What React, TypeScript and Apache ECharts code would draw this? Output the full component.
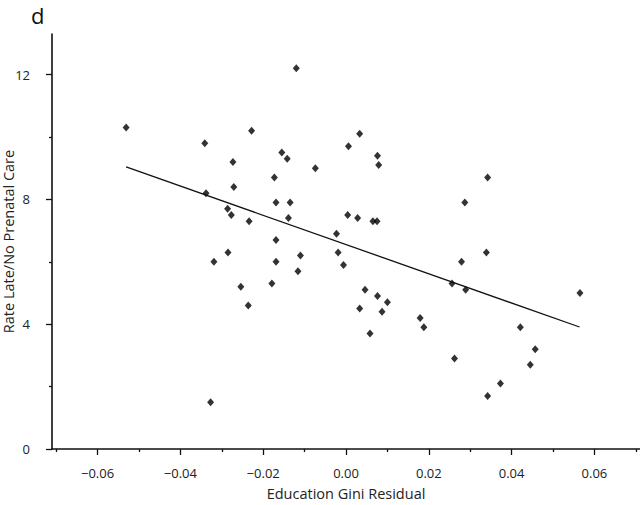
import React, { useEffect, useRef } from "react";
import * as echarts from "echarts";

const giniResidual = [
  -0.0531, -0.012, -0.0341, -0.0228, -0.0155, -0.0142, -0.0273, -0.0074, -0.0173, -0.0271,
  -0.0338, -0.0169, -0.0135, -0.0286, -0.0277, -0.0234, -0.0139, -0.0023, -0.0169, 0.0033,
  0.0006, 0.0076, 0.0079, 0.0342, 0.0287, 0.0004, 0.0028, 0.0065, 0.0075, -0.011,
  -0.0019, -0.0006, 0.0339, 0.0279, 0.0256, 0.0289, 0.0565, 0.0046, 0.0076, 0.01,
  0.0033, 0.0087, 0.0179, 0.0188, 0.0058, 0.0421, 0.0457, 0.0445, 0.0262, 0.0373,
  0.0342, -0.0285, -0.0319, -0.0169, -0.0116, -0.0254, -0.0179, -0.0236, -0.0327,
];
const rateLate = [
  10.3, 12.2, 9.8, 10.2, 9.5, 9.3, 9.2, 9.0, 8.7, 8.4,
  8.2, 7.9, 7.9, 7.7, 7.5, 7.3, 7.4, 6.9, 6.7, 10.1,
  9.7, 9.4, 9.1, 8.7, 7.9, 7.5, 7.4, 7.3, 7.3, 6.2,
  6.3, 5.9, 6.3, 6.0, 5.3, 5.1, 5.0, 5.1, 4.9, 4.7,
  4.5, 4.4, 4.2, 3.9, 3.7, 3.9, 3.2, 2.7, 2.9, 2.1,
  1.7, 6.3, 6.0, 6.0, 5.7, 5.2, 5.3, 4.6, 1.5,
];
const fitX = [-0.0531, 0.0564];
const fitY = [9.04, 3.91];
const xMajorTicks = [-0.06, -0.04, -0.02, 0, 0.02, 0.04, 0.06];
const xMinorTicks = [-0.07, -0.05, -0.03, -0.01, 0.01, 0.03, 0.05, 0.07];
const yMajorTicks = [0, 4, 8, 12];
const yMinorTicks = [2, 6, 10];

const FONT = "Open Sans";
const INK = "#111";

export default function App() {
  const ref = useRef<HTMLDivElement>(null);
  useEffect(() => {
    document.body.style.margin = "0";
    const chart = echarts.init(ref.current!, null, { renderer: "svg" });
    const xRange = { type: "value" as const, min: -0.071, max: 0.071, splitLine: { show: false } };
    const yRange = { type: "value" as const, min: 0, max: 13.3, splitLine: { show: false } };
    const gridBox = { left: 52, right: 0, top: 34, bottom: 56, containLabel: false, outerBoundsMode: "none" };
    chart.setOption({
      animation: false,
      backgroundColor: "#ffffff",
      grid: [gridBox, { ...gridBox }],
      graphic: [
        {
          type: "text",
          left: 31,
          top: 4,
          style: { text: "d", font: `22px "${FONT}"`, fill: INK },
        },
      ],
      xAxis: [
        {
          ...xRange,
          gridIndex: 0,
          name: "Education Gini Residual",
          nameLocation: "middle",
          nameGap: 37,
          nameMoveOverlap: false,
          nameTextStyle: { fontFamily: FONT, fontSize: 14.5, color: "#222" },
          axisLine: { show: true, onZero: false, lineStyle: { color: INK, width: 1.6 } },
          axisTick: { show: true, length: 6, customValues: xMajorTicks, lineStyle: { color: INK, width: 1.3 } },
          axisLabel: {
            customValues: xMajorTicks,
            margin: 17,
            fontFamily: FONT,
            fontSize: 13,
            color: "#222",
            formatter: (v: number) => v.toFixed(2).replace("-", "\u2212"),
          },
        },
        {
          ...xRange,
          gridIndex: 1,
          position: "bottom",
          axisLine: { show: false, onZero: false },
          axisTick: { show: true, length: 3, customValues: xMinorTicks, lineStyle: { color: INK, width: 1.3 } },
          axisLabel: { show: false },
        },
      ],
      yAxis: [
        {
          ...yRange,
          gridIndex: 0,
          name: "Rate Late/No Prenatal Care",
          nameLocation: "middle",
          nameGap: 36,
          nameMoveOverlap: false,
          nameTextStyle: { fontFamily: FONT, fontSize: 14.5, color: "#222" },
          axisLine: { show: true, onZero: false, lineStyle: { color: INK, width: 1.6 } },
          axisTick: { show: true, length: 6, customValues: yMajorTicks, lineStyle: { color: INK, width: 1.3 } },
          axisLabel: {
            customValues: yMajorTicks,
            margin: 22,
            fontFamily: FONT,
            fontSize: 13,
            color: "#222",
          },
        },
        {
          ...yRange,
          gridIndex: 1,
          position: "left",
          axisLine: { show: false, onZero: false },
          axisTick: { show: true, length: 3, customValues: yMinorTicks, lineStyle: { color: INK, width: 1.3 } },
          axisLabel: { show: false },
        },
      ],
      series: [
        {
          type: "line",
          xAxisIndex: 0,
          yAxisIndex: 0,
          data: fitX.map((x, i) => [x, fitY[i]]),
          showSymbol: false,
          symbol: "none",
          lineStyle: { color: INK, width: 1.3 },
          silent: true,
        },
        {
          type: "scatter",
          xAxisIndex: 0,
          yAxisIndex: 0,
          data: giniResidual.map((x, i) => [x, rateLate[i]]),
          symbol: "diamond",
          symbolSize: [7, 8],
          itemStyle: { color: "#000" },
        },
        {
          type: "scatter",
          xAxisIndex: 1,
          yAxisIndex: 1,
          data: [],
          silent: true,
        },
      ],
    });
    return () => chart.dispose();
  }, []);
  return (
    <div
      ref={ref}
      style={{ position: "fixed", left: 0, top: 0, width: 640, height: 505 }}
    />
  );
}
